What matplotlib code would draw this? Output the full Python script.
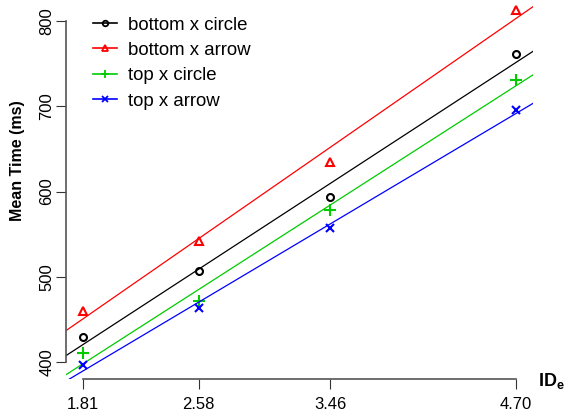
import matplotlib
matplotlib.use("Agg")
import matplotlib.pyplot as plt
import numpy as np

plt.rcParams['font.family'] = ['Liberation Sans', 'DejaVu Sans']
plt.rcParams['mathtext.fontset'] = 'custom'
plt.rcParams['mathtext.rm'] = 'Liberation Sans'
plt.rcParams['mathtext.bf'] = 'Liberation Sans:bold'

ide = [1.81, 2.58, 3.46, 4.70]
xtick_labels = ["1.81", "2.58", "3.46", "4.70"]
yticks = [400, 500, 600, 700, 800]

bottom_circle = [429, 507, 593, 761]
bottom_arrow = [460, 542, 635, 813]
top_circle = [411, 471, 578, 731]
top_arrow = [397, 463, 557, 696]

series_names = ["bottom x circle", "bottom x arrow", "top x circle", "top x arrow"]
series_vals = [bottom_circle, bottom_arrow, top_circle, top_arrow]
colors = ["black", "#ff0000", "#00cc00", "#0000ff"]
markers = ["o", "^", "+", "x"]
msizes = [5, 6, 8, 6]

W, H = 568, 416
fig = plt.figure(figsize=(W / 100, H / 100), dpi=100)
ax = fig.add_axes([66 / W, 1 - 379 / H, (533 - 66) / W, 379 / H])

x = np.array(ide)
xlo = x.min() - 0.04 * (x.max() - x.min())
xhi = x.max() + 0.04 * (x.max() - x.min())
ax.set_xlim(xlo, xhi)
ppm = 341.0 / 400.0
ylo = 400 - (379 - 362) / ppm
yhi = 800 + 21 / ppm
ax.set_ylim(ylo, yhi)

for name, vals, c, m, ms in zip(series_names, series_vals, colors, markers, msizes):
    v = np.array(vals)
    k, b = np.polyfit(x, v, 1)
    xx = np.array([xlo, xhi])
    ax.plot(xx, k * xx + b, color=c, lw=0.9)
    ax.plot(x, v, linestyle='none', marker=m, color=c, ms=ms,
            mfc='none' if m in ('o', '^') else c, mew=1.5)

# legend handles
handles = []
for name, c, m, ms in zip(series_names, colors, markers, msizes):
    h, = ax.plot([], [], color=c, lw=1.2, marker=m, ms=ms * 0.8,
                 mfc='none' if m in ('o', '^') else c, mew=1.3, label=name)
    handles.append(h)
leg = ax.legend(handles=handles, loc='upper left', bbox_to_anchor=(0.042, 0.976),
                frameon=False, fontsize=13.4, handlelength=1.3, handletextpad=0.6,
                labelspacing=0.45, borderaxespad=0.0)

for s in ['top', 'right']:
    ax.spines[s].set_visible(False)
for s in ['left', 'bottom']:
    ax.spines[s].set_color('#555555')
    ax.spines[s].set_linewidth(1.2)
ax.spines['left'].set_bounds(400, 800)
ax.spines['bottom'].set_bounds(ide[0], ide[-1])

ax.set_xticks(ide)
ax.set_xticklabels(xtick_labels)
ax.set_yticks(yticks)
ax.set_yticklabels([str(t) for t in yticks], rotation=90, va='center')
ax.tick_params(axis='both', length=7, width=0.8, color='#333333', labelsize=12)
ax.tick_params(axis='y', pad=1.5)
ax.tick_params(axis='x', pad=6)

fig.text(18 / W, 1 - 161 / H, "Mean Time (ms)", rotation=90, ha='center', va='center',
         fontsize=11.5, fontweight='bold')
fig.text(538 / W, 1 - 381 / H, r"$\mathbf{ID_e}$", ha='left', va='center', fontsize=13)

fig.savefig("out.png", dpi=100)
